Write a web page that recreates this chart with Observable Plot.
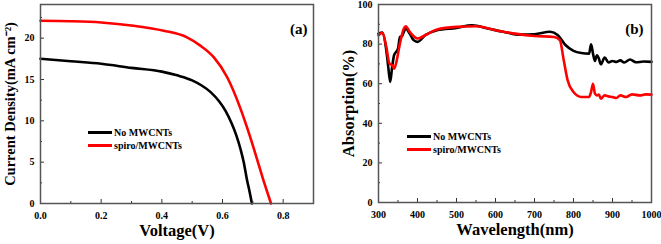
<!DOCTYPE html>
<html><head><meta charset="utf-8">
<script src="https://cdn.jsdelivr.net/npm/d3@7"></script>
<script src="https://cdn.jsdelivr.net/npm/@observablehq/plot@0.6"></script>
<style>
body{margin:0;background:#fff;}
#wrap{position:relative;width:661px;height:244px;display:flex;}
.leg{position:absolute;font:bold 10px "Liberation Serif",serif;display:flex;align-items:center;white-space:nowrap;}
.leg span.l{display:inline-block;width:24px;height:3px;margin-right:2px;}
</style>
</head><body>
<div id="wrap"></div>
<script>
// Panel (a): J-V curves
const seriesNames = ["No MWCNTs", "spiro/MWCNTs"];
const seriesColors = ["#000000", "#ff0000"];
const voltageA = [0, 0.1, 0.2, 0.3, 0.4, 0.45, 0.5, 0.53, 0.56, 0.59, 0.61, 0.63, 0.645, 0.66, 0.67, 0.68, 0.69, 0.697];
const jNoMW =   [17.5, 17.2, 16.9, 16.4, 15.95, 15.5, 14.9, 14.3, 13.5, 12.3, 11.2, 9.7, 8.3, 6.5, 5.0, 3.0, 1.3, 0];
const voltageB = [0, 0.1, 0.2, 0.307, 0.406, 0.483, 0.527, 0.571, 0.615, 0.658, 0.68, 0.702, 0.72, 0.735, 0.75, 0.76];
const jSpiro =   [22.1, 22.05, 21.9, 21.5, 20.9, 20.1, 19.1, 17.7, 15.3, 11.6, 9.3, 6.8, 4.6, 2.8, 1.1, 0];
const xTicksA = [0, 0.2, 0.4, 0.6, 0.8];
const yTicksA = [0, 5, 10, 15, 20];

// Panel (b): absorption spectra
const wlBlack = [300,310,320,325,330,335,340,350,355,360,370,380,390,400,420,450,500,540,580,620,660,700,740,760,780,800,820,840,845,850,855,860,865,870,880,890,900,910,920,930,945,960,980,1000];
const absBlack = [85.3,85.8,76.9,68.5,60.9,68.5,74.4,77.7,83.6,84,87.9,85.3,82,81.1,84.5,87,88.2,89.5,87.9,86.2,84.8,85,86.2,84.5,79.4,76.6,75.5,75.2,79.9,75.2,71.5,74.4,72.7,69.8,73.2,70.7,71.5,71,71.8,70.7,72.2,70.8,71.2,71];
const wlRed = [300,310,320,328,335,340,345,355,365,370,380,400,420,450,500,550,600,650,700,750,765,775,785,800,820,840,845,850,855,860,865,870,880,890,900,910,920,935,950,970,985,1000];
const absRed = [84.5,85.7,78.6,70.2,69.3,67.6,70.2,80.3,87.9,89,86.2,82.8,84.5,87.4,88.7,89,87,85.3,84.1,83.6,82,71.8,61.7,55.8,53.3,53.3,55.8,60,55,54.1,54.5,52.4,54.1,53.6,53.3,52.8,54.1,53.3,54.6,54.1,54.6,54.5];
const xTicksB = [300, 400, 500, 600, 700, 800, 900, 1000];
const yTicksB = [0, 20, 40, 60, 80, 100];

const wrap = document.getElementById("wrap");
const font = {fontFamily: "'Liberation Serif', serif", fontWeight: "bold", fontSize: "10px", background: "#fff", color: "#000"};

function panel({width, height, ml, mr, mt, mb, xDomain, yDomain, xTicks, yTicks, xMinor, yMinor, xFmt, lines, xLabel, yLabel, yLabelSize, tag, tagDx}) {
  const pw = width - ml - mr, ph = height - mt - mb;
  return Plot.plot({
    width, height, marginLeft: ml, marginRight: mr, marginTop: mt, marginBottom: mb,
    style: font,
    x: {domain: xDomain},
    y: {domain: yDomain},
    marks: [
      ...lines.map(l => Plot.line(l.x.map((v, i) => ({x: v, y: l.y[i]})), {x: "x", y: "y", stroke: l.color, strokeWidth: 2.6, curve: "monotone-x"})),
      Plot.ruleX(xTicks, {x: d => d, insetTop: ph - 4, stroke: "#333", strokeWidth: 1}),
      Plot.ruleX(xMinor, {x: d => d, insetTop: ph - 2, stroke: "#333", strokeWidth: 1}),
      Plot.ruleY(yTicks, {y: d => d, insetRight: pw - 4, stroke: "#333", strokeWidth: 1}),
      Plot.ruleY(yMinor, {y: d => d, insetRight: pw - 2, stroke: "#333", strokeWidth: 1}),
      Plot.axisX({ticks: xTicks, tickSize: 0, tickPadding: 8, tickFormat: xFmt, label: null}),
      Plot.axisY({ticks: yTicks, tickSize: 0, tickPadding: 6, label: null}),
      Plot.frame({stroke: "#555", strokeWidth: 1.5}),
      Plot.text([xLabel], {frameAnchor: "bottom", dy: 32, fontSize: 16.5, fontWeight: "bold", textAnchor: "middle"}),
      Plot.text([yLabel], {frameAnchor: "left", dx: -30, rotate: -90, fontSize: yLabelSize, fontWeight: "bold", textAnchor: "middle"}),
      Plot.text([tag], {frameAnchor: "top-right", dx: tagDx, dy: 19, fontSize: 15, fontWeight: "bold"})
    ]
  });
}

const pa = panel({
  width: 330, height: 244, ml: 40, mr: 17, mt: 4, mb: 41,
  xDomain: [0, 0.9], yDomain: [0, 24.07],
  xTicks: xTicksA, yTicks: yTicksA,
  xMinor: [0.1, 0.3, 0.5, 0.7], yMinor: [2.5, 7.5, 12.5, 17.5, 22.5],
  xFmt: d3.format(".1f"),
  lines: [{x: voltageA, y: jNoMW, color: seriesColors[0]}, {x: voltageB, y: jSpiro, color: seriesColors[1]}],
  xLabel: "Voltage(V)", yLabel: "Current Density(mA cm⁻²)", yLabelSize: 14.5, tag: "(a)", tagDx: -6
});
const pb = panel({
  width: 331, height: 244, ml: 48, mr: 10, mt: 4, mb: 42,
  xDomain: [300, 1000], yDomain: [0, 100],
  xTicks: xTicksB, yTicks: yTicksB,
  xMinor: [350, 450, 550, 650, 750, 850, 950], yMinor: [10, 30, 50, 70, 90],
  xFmt: d3.format("d"),
  lines: [{x: wlBlack, y: absBlack, color: seriesColors[0]}, {x: wlRed, y: absRed, color: seriesColors[1]}],
  xLabel: "Wavelength(nm)", yLabel: "Absorption(%)", yLabelSize: 16.5, tag: "(b)", tagDx: -8
});
wrap.appendChild(pa);
wrap.appendChild(pb);

function legend(left, top) {
  seriesNames.forEach((n, i) => {
    const d = document.createElement("div");
    d.className = "leg";
    d.style.left = left + "px";
    d.style.top = (top + i * 12.5) + "px";
    d.innerHTML = `<span class="l" style="background:${seriesColors[i]}"></span>${n}`;
    wrap.appendChild(d);
  });
}
legend(88, 127);
legend(407, 131);
</script>
</body></html>
